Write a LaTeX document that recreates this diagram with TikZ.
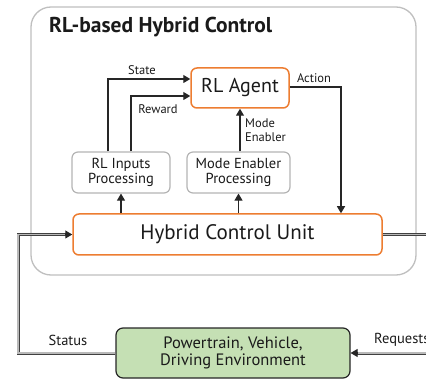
\documentclass[tikz,border=0pt]{standalone}
\usepackage{fontspec}
\setmainfont{PT Sans}
\usetikzlibrary{arrows.meta}
\definecolor{orng}{HTML}{ED7D31}
\definecolor{gbox}{HTML}{B4B4B4}
\definecolor{gframe}{HTML}{BFBFBF}
\definecolor{grn}{HTML}{C5E0B4}
\definecolor{ink}{HTML}{1A1A1A}
\definecolor{lnk}{HTML}{262626}
\begin{document}
\begin{tikzpicture}[x=1pt,y=-1pt,
  every node/.style={text=ink},
  frame/.style={draw=gframe, line width=1.3pt, rounded corners=20pt, inner sep=0pt},
  obox/.style={draw=orng, line width=1.5pt, rounded corners=6pt, fill=white, inner sep=0pt, align=center},
  gboxst/.style={draw=gbox, line width=1.2pt, rounded corners=6pt, fill=white, inner sep=0pt, align=center, font=\fontsize{14.5}{15.5}\selectfont},
  envbox/.style={draw=lnk, line width=1.2pt, rounded corners=7pt, fill=grn, inner sep=0pt, align=center, font=\fontsize{16.5}{17}\selectfont},
  arr/.style={draw=lnk, line width=1.1pt, -{Triangle[length=7pt,width=8pt]}},
  dbl/.style={draw=black!75, line width=0.7pt, double=gray!55, double distance=1.6pt},
  lbl/.style={font=\fontsize{12.5}{13.5}\selectfont, inner sep=0pt},
  olbl/.style={font=\fontsize{14.5}{15}\selectfont, inner sep=0pt}
]
\useasboundingbox (0,0) rectangle (426,382);
\clip (0,0) rectangle (426,382);

\node[frame, minimum width=385pt, minimum height=268pt] (frame) at (223.5,141) {};
\node[anchor=base west, inner sep=0pt, font=\fontsize{21.5}{22}\selectfont\bfseries] (title) at (49,33) {RL-based Hybrid Control};

\node[obox, minimum width=98pt, minimum height=40pt, font=\fontsize{20}{21}\selectfont] (agent) at (240,88) {RL Agent};
\node[gboxst, minimum width=98pt, minimum height=41pt] (rlin) at (121,172.5) {RL Inputs\\Processing};
\node[gboxst, minimum width=103pt, minimum height=41pt] (mep) at (238.5,172.5) {Mode Enabler\\Processing};
\node[obox, minimum width=309pt, minimum height=41pt, font=\fontsize{21}{22}\selectfont] (hcu) at (227.5,234.5) {Hybrid Control Unit};
\node[envbox, minimum width=234pt, minimum height=50pt] (pw) at (233,353) {Powertrain, Vehicle,\\Driving Environment};

% inner connectors
\draw[arr] ([xshift=-13pt]rlin.north) |- ([yshift=9pt]agent.west);
\draw[arr] ([xshift=10pt]rlin.north) |- ([yshift=-8pt]agent.west);
\draw[arr] (mep.north -| agent.south) -- (agent.south);
\draw[arr] ([yshift=1pt]agent.east) -| ([xshift=113.5pt]hcu.north);
\draw[arr] (hcu.north -| rlin.south) -- (rlin.south);
\draw[arr] (hcu.north -| mep.south) -- (mep.south);

\node[lbl] (lstate) at (142,70) {State};
\node[lbl] (lreward) at (158,109) {Reward};
\node[lbl] (laction) at (314,78) {Action};
\node[lbl, anchor=west, align=left] (lmode) at (245,130) {Mode\\Enabler};

% outer connectors
\coordinate (lc) at (18,0);
\coordinate (rc) at (432,0);
\draw[dbl] (pw.west) -| (lc |- hcu.west) -- ([xshift=-6pt]hcu.west);
\draw[arr] ([xshift=-7pt]hcu.west) -- (hcu.west);
\draw[dbl] (hcu.east) -- (hcu.east -| rc);
\draw[dbl] (pw.east -| rc) -- ([xshift=6pt]pw.east);
\draw[arr] ([xshift=7pt]pw.east) -- (pw.east);

\node[olbl] (lstatus) at (68,340) {Status};
\node[olbl, anchor=west] (lreq) at (374,340) {Requests};
\end{tikzpicture}
\end{document}
